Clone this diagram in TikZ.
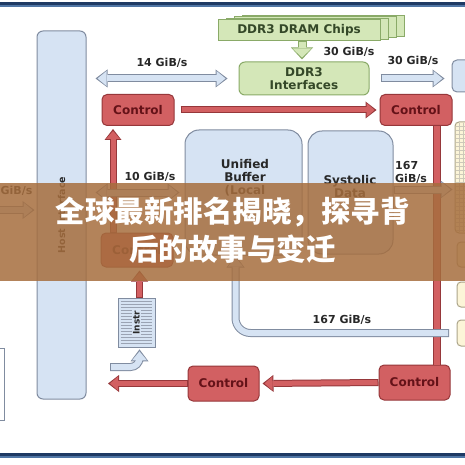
\documentclass[tikz,border=0pt]{standalone}
\usepackage{fontspec}
\setmainfont{DejaVu Sans}
\newfontfamily\cjk{Noto Sans CJK SC}
\usetikzlibrary{arrows.meta, positioning, calc}

\definecolor{navy}{RGB}{30,58,100}
\definecolor{navylight}{RGB}{80,118,165}
\definecolor{bluefill}{RGB}{214,227,243}
\definecolor{blueline}{RGB}{128,140,160}
\definecolor{redfill}{RGB}{210,96,98}
\definecolor{redline}{RGB}{150,55,58}
\definecolor{redtext}{RGB}{100,18,24}
\definecolor{greenfill}{RGB}{212,231,184}
\definecolor{greenline}{RGB}{138,170,104}
\definecolor{greentext}{RGB}{52,72,40}
\definecolor{yellowfill}{RGB}{252,245,216}
\definecolor{yellowline}{RGB}{172,165,138}
\definecolor{labeltext}{RGB}{40,40,40}
\definecolor{banner}{RGB}{166,110,62}

\tikzset{
    unit/.style = {rectangle, draw=blueline, fill=bluefill, line width=1pt, rounded corners=5pt, inner sep=0pt},
    ctrl/.style = {rectangle, draw=redline, fill=redfill, line width=1pt, rounded corners=5pt, inner sep=0pt, minimum width=72pt, minimum height=31pt, text=redtext, font=\bfseries\fontsize{12}{12}\selectfont},
    dram/.style = {rectangle, draw=greenline, fill=greenfill, line width=1pt, inner sep=0pt, text=greentext, font=\bfseries\fontsize{12}{13}\selectfont},
    acc/.style = {rectangle, draw=yellowline, fill=yellowfill, line width=1pt, rounded corners=4pt, inner sep=0pt},
    rate/.style = {text=labeltext, inner sep=0pt, font=\bfseries\fontsize{11}{13}\selectfont},
    boxtext/.style = {text=labeltext, inner sep=0pt, align=center, font=\bfseries\fontsize{12}{13}\selectfont},
    title/.style = {text=white, inner sep=0pt, font=\cjk\bfseries\fontsize{29.5}{29.5}\selectfont},
    bi/.tip = {Triangle[length=9pt, width=15pt, line width=0pt]},
    bo/.tip = {Triangle[length=12pt, width=18pt, line width=0pt]},
    ri/.tip = {Triangle[length=8pt, width=14pt, line width=0pt]},
    ro/.tip = {Triangle[length=11pt, width=17pt, line width=0pt]},
    gi/.tip = {Triangle[length=9pt, width=19pt, line width=0pt]},
    go/.tip = {Triangle[length=12pt, width=22pt, line width=0pt]},
    blueflow/.style = {draw=bluefill, line width=6pt, -bi, shorten >=2pt, shorten <=1pt,
        preaction={draw=blueline, line width=8pt, -bo, shorten >=0pt, shorten <=0pt}},
    bluedouble/.style = {draw=bluefill, line width=6pt, bi-bi, shorten >=2pt, shorten <=2pt,
        preaction={draw=blueline, line width=8pt, bo-bo, shorten >=0pt, shorten <=0pt}},
    redflow/.style = {draw=redfill, line width=5pt, -ri, shorten >=2pt, shorten <=1pt,
        preaction={draw=redline, line width=7pt, -ro, shorten >=0pt, shorten <=0pt}},
    redbar/.style = {draw=redfill, line width=6pt, preaction={draw=redline, line width=8pt}},
    greenflow/.style = {draw=greenfill, line width=7pt, -gi, shorten >=2pt, shorten <=1pt,
        preaction={draw=greenline, line width=9pt, -go, shorten >=0pt, shorten <=0pt}}
}

\begin{document}
\begin{tikzpicture}[x=1pt, y=-1pt]
    \useasboundingbox (0,0) rectangle (465,465);
    \fill[white] (0,0) rectangle (465,465);

    % --- NODES ---
    % Left: PCIe and host interface
    \node[rectangle, draw=blueline, fill=white, line width=1pt, minimum width=30pt, minimum height=72pt] (pcie) at (-11,384) {};
    \node[unit, rounded corners=6pt, minimum width=49pt, minimum height=368pt] (host) at (61.5,215) {};
    \node[rate, rotate=90, font=\bfseries\fontsize{9.5}{9.5}\selectfont] (hostlabel) at (host.center) {Host Interface};

    % DRAM and DDR3 interfaces
    \foreach \k in {3,2,1}
        \node[dram, minimum width=162pt, minimum height=21pt] (chip\k) at ({299+8*\k},{30.5-1.5*\k}) {};
    \node[dram, minimum width=162pt, minimum height=21pt] (dram) at (299,30.5) {DDR3 DRAM Chips};
    \node[dram, align=center, rounded corners=6pt, minimum width=130pt, minimum height=33pt] (ddrif) at (304,78.5) {DDR3\\Interfaces};

    % Control units
    \node[ctrl] (ctrltl) at (138,110) {Control};
    \node[ctrl] (ctrltr) at (416,110) {Control};
    \node[ctrl, minimum height=34pt] (ctrllo) at (137,250) {Control};
    \node[ctrl, minimum width=71pt, minimum height=35pt] (ctrlbm) at (223.5,383.5) {Control};
    \node[ctrl, minimum width=71pt, minimum height=35pt] (ctrlbr) at (414.5,382.5) {Control};

    % Buffers
    \node[unit, rounded corners=14pt, minimum width=117pt, minimum height=125pt] (ub) at (243.5,192.5) {};
    \node[boxtext] (ubtext) at (245,178) {Unified\\Buffer\\(Local};
    \node[unit, rounded corners=14pt, minimum width=85pt, minimum height=123pt, right=5pt of ub] (sys) {};
    \node[boxtext] (systext) at (350,187) {Systolic\\Data};

    % Instruction queue
    \node[rectangle, draw=blueline, fill=bluefill, line width=0.8pt, minimum width=37pt, minimum height=49pt, inner sep=0pt] (instr) at (136.5,322.5) {};
    \foreach \i in {4,7,...,46}
        \draw[blueline!80, line width=0.5pt] ($(instr.north west)+(3,\i)$) -- ($(instr.north east)+(-3,\i)$);
    \node[rate, rotate=90, font=\bfseries\fontsize{9}{9}\selectfont, fill=bluefill, inner sep=1pt] (instrlabel) at (instr.center) {Instr};

    % Right: weight FIFO, accumulators, activation
    \node[unit, minimum width=36pt, minimum height=32pt] (wfifo) at (470,76) {};
    \node[acc, minimum width=40pt, minimum height=111pt] (accum) at (475,177.5) {};
    \foreach \i in {126,130,...,230}
        \draw[yellowline!60, line width=0.4pt] (456,\i) -- (466,\i);
    \foreach \i in {459,463}
        \draw[yellowline!60, line width=0.4pt] (\i,123) -- (\i,232);
    \node[acc, minimum width=38pt, minimum height=25pt] (act) at (476,254.5) {};
    \node[acc, minimum width=38pt, minimum height=25pt] (norm) at (476,294.5) {};
    \node[acc, minimum width=38pt, minimum height=26pt] (pool) at (476,333) {};

    \coordinate (pcieout) at (-4,210);
    \coordinate (instrin) at (110,367);
    \coordinate (ctrlin) at (108,383.5);
    \coordinate (actout) at (449,333);

    % --- PATHS ---
    % control flow
    \draw[redflow] ($(ctrltl.east)+(6,0)$) -- ($(ctrltr.west)+(-3,0)$);
    \draw[redflow] ($(ctrllo.north)+(-24,0)$) -- ($(ctrltl.south)+(-25,3)$);
    \draw[redflow] ($(instr.north)+(3,0)$) -- ($(instr.north |- ctrllo.south)+(3,3)$);
    \draw[redbar] ($(ctrltr.south)+(21,0)$) -- ($(ctrltr.south |- ctrlbr.north)+(21,0)$);
    \draw[redflow] (ctrlbr.west) -- ($(ctrlbm.east)+(3,0)$);
    \draw[redflow] (ctrlbm.west) -- (ctrlin);

    % data flow
    \draw[blueflow] (pcieout) -- ($(host.west |- pcieout)+(-2,0)$);
    \draw[bluedouble] ($(host.east |- ddrif.west)+(9,0)$) -- ($(ddrif.west)+(-11,0)$);
    \draw[bluedouble] ($(host.east |- ub.west)+(9,0)$) -- ($(ub.west)+(-5,0)$);
    \draw[greenflow] ($(dram.south)+(3,0)$) -- ($(ddrif.north)+(-2,-2)$);
    \draw[blueflow] ($(ddrif.east)+(11,0)$) -- ($(ddrif.east -| wfifo.west)+(-7,0)$);
    \draw[blueflow] ($(sys.east)+(0,-3)$) -- ($(sys.east -| accum.west)+(-2,-3)$);
    \draw[blueflow, rounded corners=15pt] (actout) -| ($(ub.south)+(-8,0)$);
    \draw[blueflow, rounded corners=9pt] (instrin) -| ($(instr.south)+(3,2)$);

    % rate labels
    \node[rate] (rate14) at (162,63) {14 GiB/s};
    \node[rate] (rate30a) at (349,52) {30 GiB/s};
    \node[rate] (rate30b) at (413,61) {30 GiB/s};
    \node[rate] (rate10) at (150,177) {10 GiB/s};
    \node[rate, align=left, anchor=west] (rate167a) at (395,172) {167\\GiB/s};
    \node[rate] (rate167b) at (342,320) {167 GiB/s};
    \node[rate] (ratepcie) at (16.5,191) {GiB/s};

    % frame lines
    \fill[navy] (0,2.5) rectangle (465,5.5);
    \fill[navylight] (0,5.5) rectangle (465,7);
    \fill[navy] (0,452.5) rectangle (465,456);
    \fill[navylight] (0,456) rectangle (465,458);

    % --- BANNER ---
    \fill[banner, opacity=0.85] (0,183) rectangle (465,281);
    \node[title] (title1) at (232.5,212) {全球最新排名揭晓，探寻背};
    \node[title] (title2) at (232.5,249) {后的故事与变迁};
\end{tikzpicture}
\end{document}
